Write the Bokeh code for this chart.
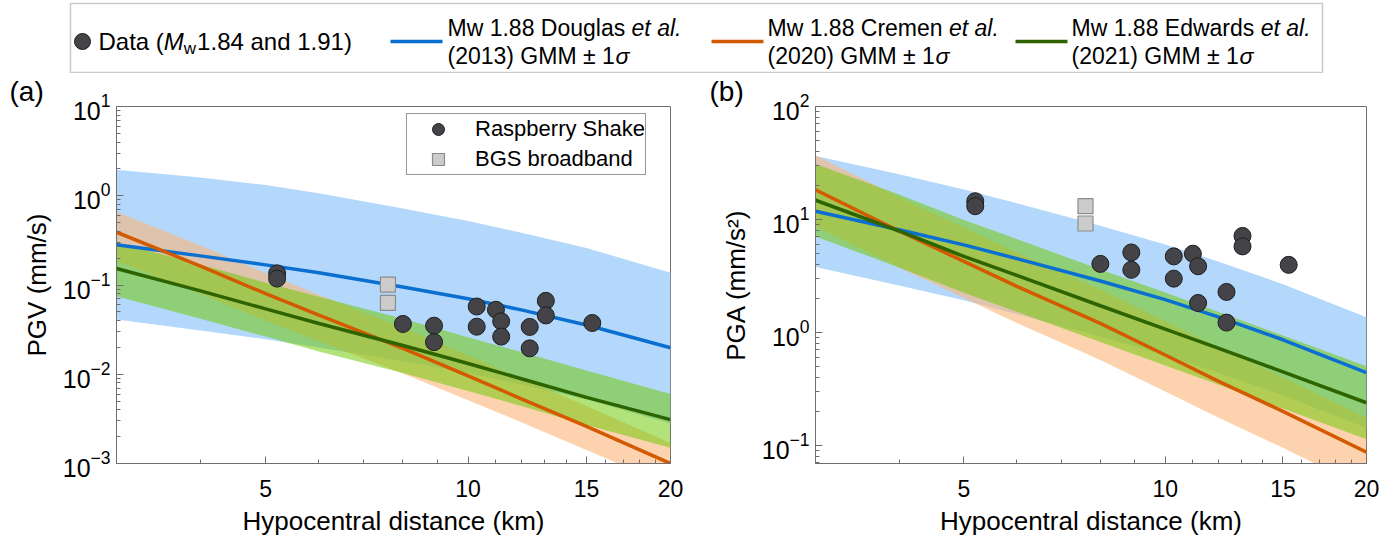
from bokeh.plotting import figure
from bokeh.models import (Range1d, FixedTicker, PrintfTickFormatter,
                          Legend, LegendItem, BoxAnnotation)
from bokeh.layouts import column, row
from bokeh.embed import file_html
from bokeh.resources import INLINE
from bokeh.core.properties import value

# ---------------- data ----------------
rs_dist = [5.2, 5.2, 8.0, 8.9, 8.9, 10.3, 10.3, 11.0, 11.2, 11.2, 12.35, 12.35, 13.05, 13.05, 15.3]
rs_pgv = [0.135, 0.118, 0.0366, 0.035, 0.0229, 0.0574, 0.0341, 0.0528, 0.0392, 0.0264,
          0.0339, 0.0195, 0.0664, 0.0456, 0.0375]
rs_pga = [14.5, 13.1, 4.04, 5.1, 3.58, 4.71, 2.99, 4.97, 3.85, 1.82, 2.28, 1.22, 7.15, 5.77, 3.96]
bgs_dist = [7.6, 7.6]
bgs_pgv = [0.101, 0.063]
bgs_pga = [13.1, 9.2]

gmm_dist = [3, 4, 5, 6, 8, 10, 12, 15, 20]
douglas_pgv_med = [0.283, 0.212, 0.168, 0.137, 0.095, 0.070, 0.0526, 0.0356, 0.0198]
douglas_pgv_hi = [1.95, 1.6, 1.32, 1.07, 0.72, 0.52, 0.385, 0.26, 0.137]
douglas_pgv_lo = [0.041, 0.031, 0.0247, 0.02, 0.014, 0.0103, 0.0077, 0.0052, 0.0028]
cremen_pgv_med = [0.39, 0.163, 0.08, 0.046, 0.0195, 0.0096, 0.0053, 0.0026, 0.001]
cremen_pgv_hi = [0.66, 0.277, 0.136, 0.078, 0.033, 0.0163, 0.009, 0.0044, 0.0017]
cremen_pgv_lo = [0.185, 0.08, 0.04, 0.0235, 0.0102, 0.0051, 0.0029, 0.00142, 0.00056]
edwards_pgv_med = [0.153, 0.086, 0.054, 0.037, 0.021, 0.0132, 0.0089, 0.0055, 0.0031]
edwards_pgv_hi = [0.30, 0.17, 0.106, 0.074, 0.042, 0.026, 0.0177, 0.011, 0.006]
edwards_pgv_lo = [0.075, 0.042, 0.0264, 0.018, 0.0103, 0.0065, 0.0044, 0.0027, 0.0015]

douglas_pga_med = [11.8, 8.1, 5.95, 4.5, 2.85, 1.95, 1.37, 0.86, 0.44]
douglas_pga_hi = [36.5, 25.1, 18.4, 13.9, 8.8, 6.0, 4.25, 2.67, 1.36]
douglas_pga_lo = [3.8, 2.6, 1.92, 1.45, 0.92, 0.63, 0.44, 0.277, 0.142]
cremen_pga_med = [18.3, 7.9, 4.25, 2.55, 1.2, 0.63, 0.37, 0.2, 0.087]
cremen_pga_hi = [37, 15.8, 8.5, 5.1, 2.4, 1.26, 0.74, 0.4, 0.175]
cremen_pga_lo = [8.7, 3.76, 2.02, 1.21, 0.57, 0.3, 0.176, 0.095, 0.041]
edwards_pga_med = [14.8, 7.9, 4.7, 3.2, 1.72, 1.07, 0.725, 0.446, 0.238]
edwards_pga_hi = [31, 16.6, 9.9, 6.7, 3.6, 2.25, 1.52, 0.94, 0.5]
edwards_pga_lo = [7.05, 3.76, 2.24, 1.52, 0.82, 0.51, 0.345, 0.212, 0.113]

x_ticks = [5, 10, 15, 20]
x_minor = [4, 6, 7, 8, 9, 11, 12, 13, 14, 16, 17, 18, 19]

# ---------------- style ----------------
FONT = "Liberation Sans"
C_BLUE, C_ORANGE, C_GREEN = "#0a6fd0", "#d35a00", "#2e6400"
B_BLUE, B_ORANGE, B_GREEN = "#b3d8fb", "#fab87c", "#6bc700"
AX = "#6e6e6e"

WID = {' ': 278, '(': 333, ')': 333, '.': 278, '±': 584, 'σ': 600, 'D': 722, 'M': 833,
       'G': 778, 'C': 722, 'E': 667, 't': 278, 'l': 222, 's': 500, 'r': 333, 'm': 833,
       'k': 500, 'w': 722}


def tw(s, px):
    return sum(WID.get(c, 556) for c in s) * px / 1000.0


def style_axes(p, yticks, yminor):
    p.xaxis.ticker = FixedTicker(ticks=x_ticks, minor_ticks=x_minor)
    p.xaxis.formatter = PrintfTickFormatter(format="%d")
    p.yaxis.ticker = FixedTicker(ticks=yticks, minor_ticks=yminor)
    for ax in p.xaxis + p.yaxis:
        ax.axis_line_color = AX
        ax.major_tick_line_color = AX
        ax.minor_tick_line_color = AX
        ax.major_tick_in = 7
        ax.major_tick_out = 0
        ax.minor_tick_in = 4
        ax.minor_tick_out = 0
        ax.major_label_text_font = FONT
        ax.major_label_text_color = "black"
        ax.axis_label_text_font = FONT
        ax.axis_label_text_font_size = "26px"
        ax.axis_label_text_font_style = "normal"
        ax.axis_label_text_color = "black"
    p.xaxis.major_label_text_font_size = "23px"
    p.yaxis.major_label_text_font_size = "25px"
    p.xaxis.major_label_standoff = 16
    p.xaxis.axis_label_standoff = 6
    p.yaxis.major_label_standoff = 6
    p.yaxis.axis_label_standoff = 8
    p.xgrid.visible = False
    p.ygrid.visible = False
    p.outline_line_color = AX


def panel(yrange, ylabel, yticks, yminor, border_left, frame_w, border_right,
          d_med, d_hi, d_lo, c_med, c_hi, c_lo, e_med, e_hi, e_lo, rs_y, bgs_y, tag):
    p = figure(x_axis_type="log", y_axis_type="log", x_range=Range1d(3, 20),
               y_range=Range1d(*yrange), frame_width=frame_w, frame_height=357,
               min_border_left=border_left, min_border_right=border_right,
               min_border_top=30, min_border_bottom=69,
               output_backend="svg", toolbar_location=None,
               x_axis_label="Hypocentral distance (km)", y_axis_label=ylabel)
    p.varea(x=gmm_dist, y1=d_lo, y2=d_hi, fill_color=B_BLUE, fill_alpha=1.0)
    p.varea(x=gmm_dist, y1=c_lo, y2=c_hi, fill_color=B_ORANGE, fill_alpha=0.62)
    p.varea(x=gmm_dist, y1=e_lo, y2=e_hi, fill_color=B_GREEN, fill_alpha=0.52)
    p.line(gmm_dist, d_med, line_color=C_BLUE, line_width=3.5)
    p.line(gmm_dist, c_med, line_color=C_ORANGE, line_width=3.5)
    p.line(gmm_dist, e_med, line_color=C_GREEN, line_width=3.5)
    r_bgs = p.scatter(bgs_dist, bgs_y, marker="square", size=15, fill_color="#cccccc",
                      line_color="#8c8c8c", line_width=1.2)
    r_rs = p.scatter(rs_dist, rs_y, marker="circle", size=17, fill_color="#444448",
                     line_color="#1e1e1e", line_width=1)
    style_axes(p, yticks, yminor)
    # panel tag as a left-shifted title
    p.title.text = tag
    p.title.align = "left"
    p.title.offset = -(border_left - 9)
    p.title.standoff = 0
    p.title.text_font = FONT
    p.title.text_font_size = "28px"
    p.title.text_font_style = "normal"
    p.title.text_color = "black"
    return p, r_rs, r_bgs


ya_major = [1e-3, 1e-2, 1e-1, 1, 10]
ya_minor = [m * 10.0 ** k for k in range(-3, 1) for m in range(2, 10)]
yb_major = [0.1, 1, 10, 100]
yb_minor = [m * 10.0 ** k for k in range(-2, 2) for m in range(2, 10) if m * 10.0 ** k > 0.069]

fa, ra_rs, ra_bgs = panel((1e-3, 10), "PGV (mm/s)", ya_major, ya_minor, 116, 554, 30,
                          douglas_pgv_med, douglas_pgv_hi, douglas_pgv_lo,
                          cremen_pgv_med, cremen_pgv_hi, cremen_pgv_lo,
                          edwards_pgv_med, edwards_pgv_hi, edwards_pgv_lo,
                          rs_pgv, bgs_pgv, "(a)")
fb, _, _ = panel((0.069, 100), "PGA (mm/s²)", yb_major, yb_minor, 115, 551, 29,
                 douglas_pga_med, douglas_pga_hi, douglas_pga_lo,
                 cremen_pga_med, cremen_pga_hi, cremen_pga_lo,
                 edwards_pga_med, edwards_pga_hi, edwards_pga_lo,
                 rs_pga, bgs_pga, "(b)")

leg = Legend(items=[LegendItem(label="Raspberry Shake", renderers=[ra_rs]),
                    LegendItem(label="BGS broadband", renderers=[ra_bgs])],
             location=(290, 288), label_text_font=FONT, label_text_font_size="22px",
             label_text_color="black",
             glyph_width=62, glyph_height=30, label_standoff=6, padding=0, spacing=0,
             margin=0, border_line_color="#333333", border_line_width=1,
             background_fill_color="white", background_fill_alpha=1.0)
fa.add_layout(leg)

# ---------------- top legend ----------------
gmm_names = ["Douglas", "Cremen", "Edwards"]
gmm_years = ["2013", "2020", "2021"]
gmm_colors = [C_BLUE, C_ORANGE, C_GREEN]

LH = 73
lf = figure(width=1395, height=LH, x_range=Range1d(0, 1395), y_range=Range1d(0, LH),
            x_axis_type=None, y_axis_type=None, min_border=0, outline_line_color=None,
            output_backend="svg", toolbar_location=None)
lf.add_layout(BoxAnnotation(left=70, right=1322, bottom=1, top=70, fill_color=None,
                            line_color="#505050", line_width=1.5))
FS = 23
ym = LH - 41
y1 = LH - 27
y2 = LH - 55
lf.scatter([82], [ym], marker="circle", size=16, fill_color="#444448", line_color="#1e1e1e")
xd = 98
x_m = xd + tw("Data (", 24)
x_w = x_m + tw("M", 24)
x_rest = x_w + tw("w", 17) + 1
lf.text(x=[xd, x_rest], y=[ym, ym], text=["Data (", "1.84 and 1.91)"], text_font=value(FONT),
        text_font_size=value("24px"), text_baseline="middle", text_align="left", text_color="black")
lf.text(x=[x_m], y=[ym], text=["M"], text_font=value(FONT), text_font_size=value("24px"),
        text_font_style="italic", text_baseline="middle", text_align="left", text_color="black")
lf.text(x=[x_w], y=[ym - 7], text=["w"], text_font=value(FONT), text_font_size=value("17px"),
        text_baseline="middle", text_align="left", text_color="black")

line_x0 = [390, 711, 1015]
text_x0 = [447, 767, 1071]
lf.segment(x0=line_x0, y0=[ym] * 3, x1=[x + 52 for x in line_x0], y1=[ym] * 3,
           line_color=gmm_colors, line_width=3.5)
n_x, n_t, i_x, i_t = [], [], [], []
n_y, i_y = [], []
for x, nm, yr in zip(text_x0, gmm_names, gmm_years):
    l1 = f"Mw 1.88 {nm} "
    l2 = f"({yr}) GMM ± 1"
    n_x += [x, x]; n_y += [y1, y2]; n_t += [l1, l2]
    i_x += [x + tw(l1, FS), x + tw(l2, FS)]; i_y += [y1, y2]; i_t += ["et al.", "σ"]
lf.text(x=n_x, y=n_y, text=n_t, text_font=value(FONT), text_font_size=value("23px"),
        text_baseline="middle", text_align="left", text_color="black")
lf.text(x=i_x, y=i_y, text=i_t, text_font=value(FONT), text_font_size=value("23px"),
        text_font_style="italic", text_baseline="middle", text_align="left", text_color="black")

layout = column(lf, row(fa, fb))
open("out.html", "w").write(file_html(layout, INLINE))
